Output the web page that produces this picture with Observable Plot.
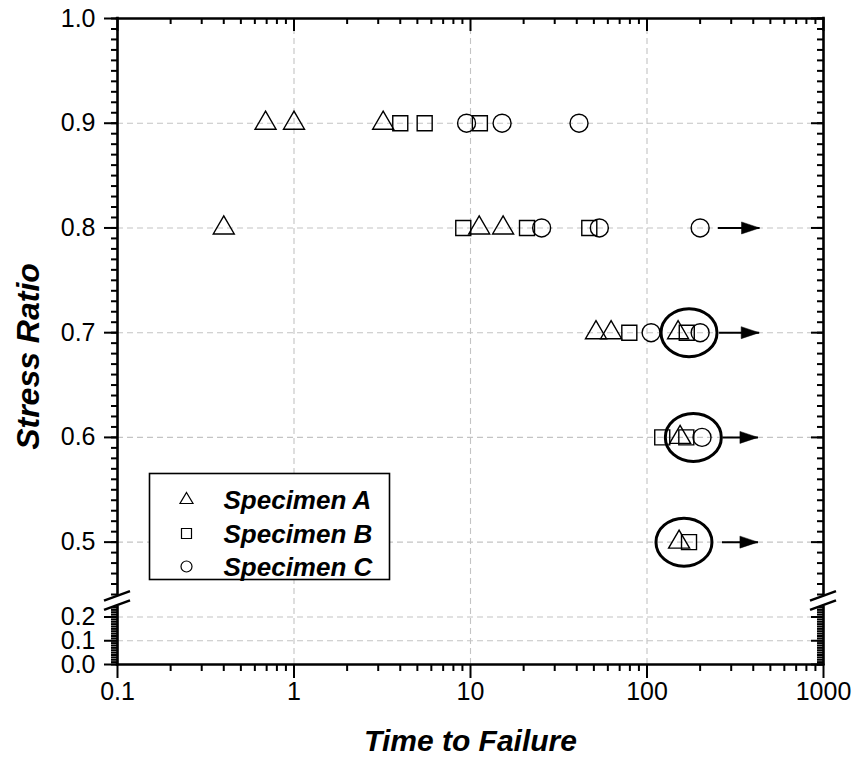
<!DOCTYPE html>
<html>
<head>
<meta charset="utf-8">
<script src="https://cdn.jsdelivr.net/npm/d3@7"></script>
<script src="https://cdn.jsdelivr.net/npm/@observablehq/plot@0.6"></script>
<style>
  html, body { margin: 0; padding: 0; background: #fff; }
  #chart { width: 856px; height: 764px; }
</style>
</head>
<body>
<div id="chart"></div>
<script>
// ---------- data ----------
const xDomain = [0.1, 1000];
const lowerRange = [0, 0.24];
const upperRange = [0.45, 1.0];
const xMajorTicks = [0.1, 1, 10, 100, 1000];
const xGridTicks = [1, 10, 100];
const yUpperTicks = [0.5, 0.6, 0.7, 0.8, 0.9, 1.0];
const yLowerTicks = [0.0, 0.1, 0.2];
const yGridTicks = [0.1, 0.2, 0.5, 0.6, 0.7, 0.8, 0.9];

const specimenATime  = [0.69, 1.0, 3.2, 0.4, 11.2, 15.3, 51.4, 62.6, 150, 154, 152];
const specimenARatio = [0.9, 0.9, 0.9, 0.8, 0.8, 0.8, 0.7, 0.7, 0.7, 0.6, 0.5];
const specimenBTime  = [4.0, 5.5, 11.3, 9.1, 20.9, 47.1, 79.4, 168, 122, 167, 173];
const specimenBRatio = [0.9, 0.9, 0.9, 0.8, 0.8, 0.8, 0.7, 0.7, 0.6, 0.6, 0.5];
const specimenCTime  = [9.5, 15.1, 41.2, 25.3, 53.7, 200, 105.5, 200, 205];
const specimenCRatio = [0.9, 0.9, 0.9, 0.8, 0.8, 0.8, 0.7, 0.7, 0.6];

const runoutRatio = [0.8, 0.7, 0.6, 0.5];
const runoutStart = [252, 256, 268, 266];
const runoutEnd   = [434, 432, 425, 425];

const circledRatio = [0.7, 0.6, 0.5];
const circledTime  = [173, 183, 162];

const legendLabels = ["Specimen A", "Specimen B", "Specimen C"];

// ---------- helpers ----------
const zip = (xs, ys) => xs.map((x, i) => ({x, y: ys[i]}));
const ptsA = zip(specimenATime, specimenARatio);
const ptsB = zip(specimenBTime, specimenBRatio);
const ptsC = zip(specimenCTime, specimenCRatio);
const runouts = runoutRatio.map((y, i) => ({y, x1: runoutStart[i], x2: runoutEnd[i]}));
const circled = zip(circledTime, circledRatio);

const triSym = (h, b, w) => ({draw(c) { c.moveTo(0, -h); c.lineTo(w, b); c.lineTo(-w, b); c.closePath(); }});
const sqSym = (s) => ({draw(c) { c.moveTo(-s, -s); c.lineTo(s, -s); c.lineTo(s, s); c.lineTo(-s, s); c.closePath(); }});
const circSym = (r) => ({draw(c) { c.moveTo(r, 0); c.arc(0, 0, r, 0, 2 * Math.PI); c.closePath(); }});
const ellipseSym = (rx, ry) => ({draw(c) {
  const k = 0.5523, kx = rx * k, ky = ry * k;
  c.moveTo(rx, 0);
  c.bezierCurveTo(rx, ky, kx, ry, 0, ry);
  c.bezierCurveTo(-kx, ry, -rx, ky, -rx, 0);
  c.bezierCurveTo(-rx, -ky, -kx, -ry, 0, -ry);
  c.bezierCurveTo(kx, -ry, rx, -ky, rx, 0);
  c.closePath();
}});
const arrowHead = {draw(c) { c.moveTo(0, 0); c.lineTo(-18, -6); c.lineTo(-18, 6); c.closePath(); }};

const xMinor = [];
for (let e = -1; e <= 2; e++) for (let m = 2; m <= 9; m++) xMinor.push(m * Math.pow(10, e));
const yMinorUpper = d3.range(45, 101).map(v => v / 100);
const yMinorLower = d3.range(0, 25).map(v => v / 100);
const yMinorAll = yMinorLower.concat(yMinorUpper);
const yMajorAll = yLowerTicks.concat(yUpperTicks);

const font = "'Liberation Sans', Arial, Helvetica, sans-serif";
const W = 2.6; // frame width
const TW = 2;  // tick width
const fmtY = d3.format(".1f");

function axisBreaks(index, scales) {
  const {x, y} = scales;
  const g = d3.create("svg:g").attr("stroke", "black").attr("stroke-width", 2.4).attr("fill", "none");
  const yA = y(upperRange[0]), yB = y(lowerRange[1]);
  const mid = (yA + yB) / 2;
  for (const xv of xDomain) {
    const cx = x(xv);
    for (const off of [-4.6, 4.6]) {
      g.append("line")
        .attr("x1", cx - 13).attr("y1", mid + off + 4.8)
        .attr("x2", cx + 13).attr("y2", mid + off - 4.8);
    }
  }
  return g.node();
}

const legendX = 69;              // from frame left
const legendY = [481, 515, 548]; // from frame top
const legendSyms = [triSym(7, 4, 6.5), sqSym(5), circSym(5.5)];

const legendMarks = [];
legendLabels.forEach((lab, i) => {
  legendMarks.push(Plot.dot([lab], {frameAnchor: "top-left", dx: legendX, dy: legendY[i], symbol: legendSyms[i], r: 6, fill: "none", stroke: "black", strokeWidth: 1.2}));
  legendMarks.push(Plot.text([lab], {text: d => d, frameAnchor: "top-left", dx: legendX + 37, dy: legendY[i] + 1, textAnchor: "start", lineAnchor: "middle", fontSize: 26, fontWeight: "bold", fontStyle: "italic", fill: "black"}));
});

const chart = Plot.plot({
  width: 856,
  height: 764,
  marginLeft: 117,
  marginRight: 33,
  marginTop: 18,
  marginBottom: 100,
  style: {background: "white", fontFamily: font, color: "black"},
  x: {type: "log", domain: xDomain},
  y: {type: "linear", domain: [lowerRange[0], lowerRange[1], upperRange[0], upperRange[1]], range: [664, 607, 594, 18]},
  marks: [
    // grid
    Plot.gridX(xGridTicks, {stroke: "#c4c4c4", strokeOpacity: 1, strokeWidth: 1.1, strokeDasharray: "6,4"}),
    Plot.gridY(yGridTicks, {stroke: "#c4c4c4", strokeOpacity: 1, strokeWidth: 1.1, strokeDasharray: "6,4"}),

    // data
    Plot.dot(ptsA, {x: "x", y: "y", symbol: triSym(12, 6, 10.5), r: 10, fill: "none", stroke: "black", strokeWidth: 1.4}),
    Plot.dot(ptsB, {x: "x", y: "y", symbol: sqSym(7.5), r: 10, fill: "none", stroke: "black", strokeWidth: 1.4}),
    Plot.dot(ptsC, {x: "x", y: "y", symbol: circSym(9), r: 10, fill: "none", stroke: "black", strokeWidth: 1.4}),

    // run-out arrows
    Plot.link(runouts, {x1: "x1", x2: "x2", y1: "y", y2: "y", stroke: "black", strokeWidth: 2}),
    Plot.dot(runouts, {x: "x2", y: "y", symbol: arrowHead, r: 10, fill: "black", stroke: "black", strokeWidth: 0.5}),

    // circled groups
    Plot.dot(circled, {x: "x", y: "y", symbol: ellipseSym(28, 24), r: 10, fill: "none", stroke: "black", strokeWidth: 3}),

    // legend
    Plot.frame({fill: "white", stroke: "black", strokeWidth: 1.6, insetLeft: 32, insetRight: 434, insetTop: 455, insetBottom: 85}),
    ...legendMarks,

    // frame lines
    Plot.ruleY([upperRange[1], lowerRange[0]], {stroke: "black", strokeWidth: W, strokeLinecap: "square"}),
    Plot.ruleX(xDomain, {y1: upperRange[0], y2: upperRange[1], stroke: "black", strokeWidth: W, strokeLinecap: "square"}),
    Plot.ruleX(xDomain, {y1: lowerRange[0], y2: lowerRange[1], stroke: "black", strokeWidth: W, strokeLinecap: "square"}),
    axisBreaks,

    // bottom axis (outward ticks)
    Plot.axisX(xMinor, {anchor: "bottom", tickSize: 7, strokeWidth: TW, tickFormat: () => "", label: null}),
    Plot.axisX(xMajorTicks, {anchor: "bottom", tickSize: 14, strokeWidth: TW, tickFormat: () => "", label: null}),
    // top axis (inward ticks)
    Plot.axisX(xMinor, {anchor: "bottom", frameAnchor: "top", tickSize: 6, strokeWidth: TW, tickFormat: () => "", label: null}),
    Plot.axisX(xMajorTicks, {anchor: "bottom", frameAnchor: "top", tickSize: 13, strokeWidth: TW, tickFormat: () => "", label: null}),

    // left axis (outward ticks)
    Plot.axisY(yMinorAll, {anchor: "left", tickSize: 6, strokeWidth: TW, tickFormat: () => "", label: null}),
    Plot.axisY(yMajorAll, {anchor: "left", tickSize: 13, strokeWidth: TW, tickFormat: () => "", label: null}),
    // right axis (inward ticks)
    Plot.axisY(yMinorAll, {anchor: "left", frameAnchor: "right", tickSize: 6, strokeWidth: TW, tickFormat: () => "", label: null}),
    Plot.axisY(yMajorAll, {anchor: "left", frameAnchor: "right", tickSize: 12, strokeWidth: TW, tickFormat: () => "", label: null}),

    // tick labels
    Plot.text(xMajorTicks, {x: d => d, text: d => String(d), frameAnchor: "bottom", dy: 18, lineAnchor: "top", textAnchor: "middle", fontSize: 25, fill: "black"}),
    Plot.text(yMajorAll, {y: d => d, text: d => fmtY(d), frameAnchor: "left", dx: -22, textAnchor: "end", lineAnchor: "middle", fontSize: 25, fill: "black"}),

    // axis titles
    Plot.text(["Time to Failure"], {text: d => d, frameAnchor: "bottom", dy: 77, lineAnchor: "middle", textAnchor: "middle", fontSize: 30, fontWeight: "bold", fontStyle: "italic", fill: "black"}),
    Plot.text(["Stress Ratio"], {text: d => d, frameAnchor: "left", dx: -89, dy: 15, rotate: -90, lineAnchor: "middle", textAnchor: "middle", fontSize: 32, fontWeight: "bold", fontStyle: "italic", fill: "black"})
  ]
});

document.getElementById("chart").appendChild(chart);
</script>
</body>
</html>
